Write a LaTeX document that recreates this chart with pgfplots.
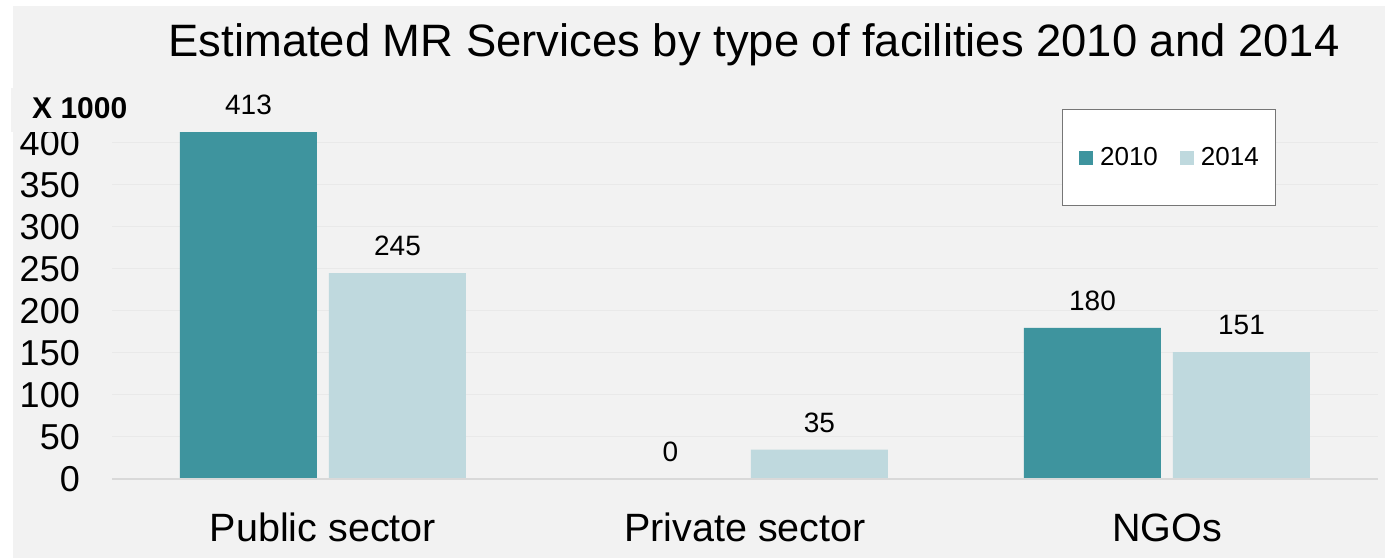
\documentclass[border=0pt]{standalone}
\usepackage{pgfplots}
\pgfplotsset{compat=1.18}
\usepackage{fontspec}
\setmainfont{Liberation Sans}
\definecolor{bg}{HTML}{F2F2F2}
\definecolor{cA}{HTML}{3E949E}
\definecolor{cB}{HTML}{BFD9DE}
\definecolor{gridc}{HTML}{E9E9E9}
\definecolor{basec}{HTML}{D9D9D9}
\definecolor{legc}{HTML}{767676}
\begin{document}
\begin{tikzpicture}
\useasboundingbox (0,0) rectangle (1396bp,558bp);
\fill[white] (0,0) rectangle (1396bp,558bp);
\fill[bg] (13bp,0) rectangle (1385bp,552bp);
\node[anchor=base, inner sep=0pt, font=\fontsize{45.4bp}{50bp}\selectfont] at (754bp,501bp) {Estimated MR Services by type of facilities 2010 and 2014};
\begin{axis}[
  at={(112bp,79bp)}, anchor=south west,
  scale only axis, width=1266bp, height=378bp,
  ybar=12bp, bar width=137bp,
  xmin=-0.5, xmax=2.5, ymin=0, ymax=450,
  clip=false,
  axis line style={draw=none},
  major tick length=0pt,
  xtick={0,1,2},
  xticklabels={Public sector, Private sector, NGOs},
  ytick={0,50,...,400},
  ymajorgrids, grid style={gridc, line width=1bp},
  /pgf/number format/assume math mode=true,
  xticklabel style={font=\fontsize{39.5bp}{44bp}\selectfont, anchor=base, inner sep=0pt, yshift=-62bp},
  yticklabel style={font=\fontsize{36bp}{40bp}\selectfont, anchor=east, inner sep=0pt, xshift=-32bp},
  nodes near coords,
  every node near coord/.append style={font=\fontsize{28bp}{32bp}\selectfont, black, anchor=south, inner sep=0pt, yshift=17bp},
  legend columns=2,
  legend style={at={(axis description cs:0.8349,0.8505)}, anchor=center, draw=legc, line width=1.2bp, fill=white,
    inner xsep=17bp, inner ysep=38bp,
    font=\fontsize{26bp}{30bp}\selectfont,
    nodes={inner sep=0pt},
    /tikz/every odd column/.style={column sep=7bp},
    /tikz/every even column/.style={column sep=22bp}},
]
\addplot[fill=cA, draw=none, legend image code/.code={\fill[cA] (0bp,-7bp) rectangle (14bp,7bp);}] coordinates {(0,413) (1,0) (2,180)};
\addplot[fill=cB, draw=none, legend image code/.code={\fill[cB] (0bp,-7bp) rectangle (14bp,7bp);}] coordinates {(0,245) (1,35) (2,151)};
\legend{2010, 2014}
\draw[basec, line width=2bp] (axis cs:-0.5,0) -- (axis cs:2.5,0);
\end{axis}
\fill[bg] (11bp,426bp) rectangle (175bp,470bp);
\node[anchor=west, inner sep=0pt, font=\bfseries\fontsize{30bp}{34bp}\selectfont] at (32bp,450bp) {X 1000};
\end{tikzpicture}
\end{document}
